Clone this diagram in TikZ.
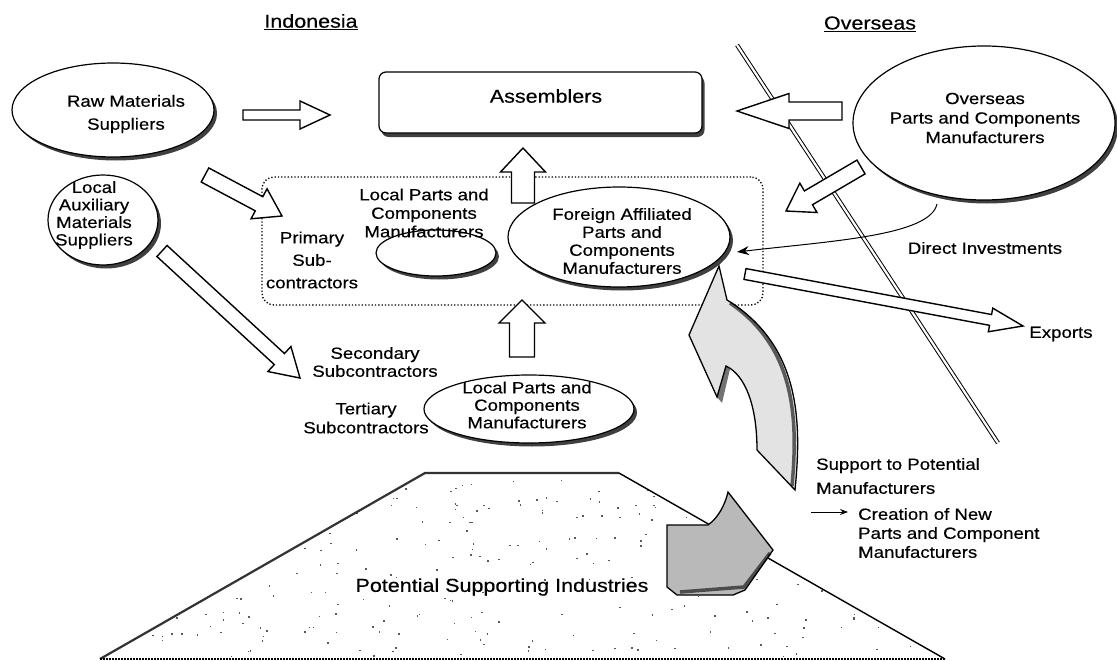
\documentclass[tikz,border=0pt]{standalone}
\usepackage{fontspec}
\setmainfont[FakeStretch=1.15,FakeBold=0.4]{Liberation Sans}
\usetikzlibrary{shapes.geometric,calc,shadows,arrows.meta}
\newcommand{\blockarr}[5]{%
  \filldraw[barrow] ($(#1)!#3!90:(#2)$) -- ($(#2)!#5!(#1)!#3!-90:(#1)$) -- ($(#2)!#5!(#1)!#4!-90:(#1)$) -- (#2) -- ($(#2)!#5!(#1)!#4!90:(#1)$) -- ($(#2)!#5!(#1)!#3!90:(#1)$) -- ($(#1)!#3!-90:(#2)$) -- cycle;}
\begin{document}
\begin{tikzpicture}[x=1pt,y=-1pt,
  every node/.style={inner sep=0pt},
  tn/.style={font=\fontsize{16.2}{18}\selectfont, align=center},
  big/.style={font=\fontsize{18.7}{21}\selectfont, align=center},
  shad/.style={drop shadow={shadow xshift=3pt,shadow yshift=-3.5pt,opacity=1,fill=black!75}},
  ell/.style={ellipse, draw, line width=1.2pt, fill=white, shad},
  barrow/.style={draw, fill=white, line width=1.4pt, line join=miter},
]
\useasboundingbox (0,0) rectangle (1117,661);
\fill[white] (0,0) rectangle (1117,661);

% ---------- trapezoid: potential supporting industries ----------
\coordinate (tl) at (425,473);
\coordinate (tr) at (619,473);
\coordinate (br) at (945,659);
\coordinate (bl) at (100,659);
\begin{scope}
  \clip (bl) -- (tl) -- (tr) -- (br) -- cycle;
  \pgfmathsetseed{7}
  \foreach \i in {1,...,320} {
    \pgfmathsetmacro{\xx}{100+845*rnd}
    \pgfmathsetmacro{\yy}{478+178*rnd}
    \fill[black!65] (\xx,\yy) rectangle ++(1.6,1.4);
  }
\end{scope}
\draw[line width=2.2pt, black!80, line join=round] (bl) -- (tl) -- (tr);
\draw[line width=1.4pt] (tr) -- (br);
\draw[line width=2pt, dash pattern=on 2pt off 1pt] (bl) -- (br);
\node[big] (psi) at (502,587) {Potential Supporting Industries};

% ---------- border line ----------
\coordinate (bd1) at (737,45);
\coordinate (bd2) at (998,443);
\draw[double=white, double distance=2.2pt, line width=1pt] (bd1) -- (bd2);

% ---------- headings ----------
\node[big] (ind) at (311,22) {\underline{Indonesia}};
\node[big] (ovh) at (870,24) {\underline{Overseas}};

% ---------- dotted group box ----------
\node[draw, dotted, line width=1.3pt, rounded corners=12pt, minimum width=501pt, minimum height=128pt] (pbox) at (512.5,241) {};

% ---------- main nodes ----------
\node[draw, rounded corners=7pt, line width=1.2pt, fill=white, minimum width=323pt, minimum height=61pt,
      drop shadow={shadow xshift=2.5pt,shadow yshift=-4pt,opacity=1,fill=black!75}] (asm) at (540.5,102.5) {};
\node[big] (asmt) at (546,96) {Assemblers};

\node[ell, minimum width=202pt, minimum height=94pt] (raw) at (113,110) {};
\node[tn, font=\fontsize{16.2}{23}\selectfont] (rawt) at (126,114) {Raw Materials\\Suppliers};

\node[ell, minimum width=110pt, minimum height=90pt] (aux) at (103,220) {};
\node[tn, font=\fontsize{16.2}{17.5}\selectfont] (auxt) at (94,215) {Local\\Auxiliary\\Materials\\Suppliers};

\node[tn, font=\fontsize{16.2}{22.5}\selectfont] (prim) at (312,260) {Primary\\Sub-\\contractors};

\node[ell, minimum width=120pt, minimum height=46pt] (lpc1) at (436,253) {};
\node[tn, font=\fontsize{16.2}{18.5}\selectfont] (lpc1t) at (424,213) {Local Parts and\\Components\\Manufacturers};

\node[ell, minimum width=222pt, minimum height=100pt] (fa) at (619,237) {};
\node[tn] (fat) at (622,241) {Foreign Affiliated\\Parts and\\Components\\Manufacturers};

\node[ell, minimum width=262pt, minimum height=154pt] (ovs) at (984,123) {};
\node[tn, font=\fontsize{16.2}{19.5}\selectfont] (ovst) at (985,118) {Overseas\\Parts and Components\\Manufacturers};

\node[ell, minimum width=210pt, minimum height=68pt] (lpc2) at (529,409) {};
\node[tn, font=\fontsize{16.2}{17.5}\selectfont] (lpc2t) at (527,405) {Local Parts and\\Components\\Manufacturers};

\node[tn] (sec) at (375,362) {Secondary\\Subcontractors};
\node[tn, font=\fontsize{16.2}{19}\selectfont] (ter) at (366,418) {Tertiary\\Subcontractors};

\node[tn] (dinv) at (985,248) {Direct Investments};
\node[tn] (exp) at (1061,334) {Exports};

\node[tn, anchor=west, align=left, font=\fontsize{16.2}{24}\selectfont] (supp) at (816,476) {Support to Potential\\Manufacturers};
\node[tn, anchor=west, align=left, font=\fontsize{16.2}{19}\selectfont] (creat) at (858,533) {Creation of New\\Parts and Component\\Manufacturers};

% ---------- block arrows ----------
\coordinate (a1s) at (243,115);  \coordinate (a1e) at (330,115);
\blockarr{a1s}{a1e}{5pt}{14pt}{30pt}
\coordinate (a2s) at (842,111);  \coordinate (a2e) at (737,111);
\blockarr{a2s}{a2e}{9pt}{17.5pt}{52pt}
\coordinate (a3s) at (205,175);  \coordinate (a3e) at (282,216);
\blockarr{a3s}{a3e}{8pt}{17pt}{26pt}
\coordinate (a4s) at (162,251);  \coordinate (a4e) at (300,378);
\blockarr{a4s}{a4e}{7.5pt}{17pt}{28pt}
\coordinate (a5s) at (523,203);  \coordinate (a5e) at (523,148);
\blockarr{a5s}{a5e}{11.5pt}{22.5pt}{24pt}
\coordinate (a6s) at (522,357);  \coordinate (a6e) at (522,300);
\blockarr{a6s}{a6e}{12.5pt}{23pt}{23pt}
\coordinate (a7s) at (861,167);  \coordinate (a7e) at (786,211);
\blockarr{a7s}{a7e}{8pt}{17pt}{26pt}
\coordinate (a8s) at (745,274);  \coordinate (a8e) at (1023,326);
\blockarr{a8s}{a8e}{5.5pt}{12pt}{33pt}

% ---------- direct investments ----------
\coordinate (di0) at (937,204);
\coordinate (di1) at (737,252);
\draw[line width=1pt, -{Stealth[length=12pt,width=9pt]}] (di0) .. controls (930,236) and (830,241) .. (di1);

% ---------- support arrow (curved, 3D) ----------
\fill[gray!22] (719,266) -- (689,335) -- (717,397) -- (726,366) .. controls (745,375) and (757,405) .. (757,450) -- (795,490) .. controls (802,420) and (800,345) .. (727,300) -- cycle;
\draw[line width=3.5pt, black!65] (792,486) .. controls (798,420) and (796,348) .. (730,303);
\fill[black!55] (717,397) -- (726,366) -- (730,369) -- (722,403) -- cycle;
\draw[line width=1.3pt, line join=miter] (719,266) -- (689,335) -- (717,397) -- (726,366) .. controls (745,375) and (757,405) .. (757,450) -- (795,490) .. controls (802,420) and (800,345) .. (727,300) -- cycle;

% ---------- creation arrow (3D) ----------
\fill[gray!55] (667,525) -- (708,525) .. controls (718,518) and (725,505) .. (728,492) -- (773,550) -- (745,590) -- (733,595) -- (677,595) -- (667,587) -- cycle;
\draw[line width=3.5pt, black!70] (770,553) -- (744,587) -- (680,592);
\draw[line width=1.3pt, line join=miter] (667,525) -- (708,525) .. controls (718,518) and (725,505) .. (728,492) -- (773,550) -- (745,590) -- (733,595) -- (677,595) -- (667,587) -- cycle;

% ---------- small arrow ----------
\coordinate (sa0) at (811,512);
\coordinate (sa1) at (848,512);
\draw[line width=1pt, -{Stealth[length=8pt,width=6pt]}] (sa0) -- (sa1);
\end{tikzpicture}
\end{document}
